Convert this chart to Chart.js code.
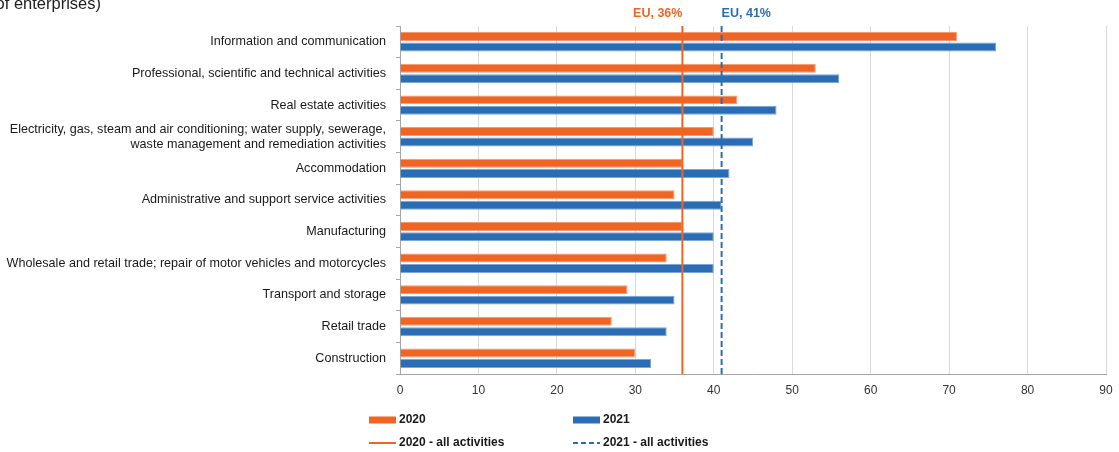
<!DOCTYPE html>
<html>
<head>
<meta charset="utf-8">
<title>Enterprises by economic activity</title>
<script src="https://cdn.jsdelivr.net/npm/chart.js@4/dist/chart.umd.min.js"></script>
<style>
  html, body { margin: 0; padding: 0; background: #fff; }
  #chartWrap { width: 1119px; height: 452px; position: relative; }
</style>
</head>
<body>
<div id="chartWrap"><canvas id="activityChart" width="1119" height="452"></canvas></div>
<script>
// 行业分类（自上而下）
const categories = [
    'Information and communication',
    'Professional, scientific and technical activities',
    'Real estate activities',
    ['Electricity, gas, steam and air conditioning; water supply, sewerage,', 'waste management and remediation activities'],
    'Accommodation',
    'Administrative and support service activities',
    'Manufacturing',
    'Wholesale and retail trade; repair of motor vehicles and motorcycles',
    'Transport and storage',
    'Retail trade',
    'Construction'
];

// 各年份数值（% of enterprises）
const values2020 = [71, 53, 43, 40, 36, 35, 36, 34, 29, 27, 30];
const values2021 = [76, 56, 48, 45, 42, 41, 40, 40, 35, 34, 32];

// 全部行业的欧盟平均值
const euAverage2020 = 36;
const euAverage2021 = 41;

const xTicks = [0, 10, 20, 30, 40, 50, 60, 70, 80, 90];
const seriesLabels = ['2020', '2021'];
const averageLabels = ['2020 - all activities', '2021 - all activities'];

const ORANGE = '#f06424';
const BLUE = '#2a6db5';
const FONT = 'Arial, "Liberation Sans", sans-serif';

// 平均线、标题残片和底部图例
const overlayPlugin = {
    id: 'overlay',
    afterDatasetsDraw(chart) {
        const ctx = chart.ctx;
        const xScale = chart.scales.x;
        const area = chart.chartArea;
        const x2020 = xScale.getPixelForValue(euAverage2020);
        const x2021 = xScale.getPixelForValue(euAverage2021);

        ctx.save();
        ctx.lineWidth = 2;
        ctx.strokeStyle = ORANGE;
        ctx.beginPath();
        ctx.moveTo(x2020, area.top);
        ctx.lineTo(x2020, area.bottom);
        ctx.stroke();

        ctx.strokeStyle = BLUE;
        ctx.setLineDash([6, 3]);
        ctx.beginPath();
        ctx.moveTo(x2021, area.top);
        ctx.lineTo(x2021, area.bottom);
        ctx.stroke();
        ctx.setLineDash([]);

        ctx.font = 'bold 12.5px ' + FONT;
        ctx.textBaseline = 'middle';
        ctx.fillStyle = ORANGE;
        ctx.textAlign = 'right';
        ctx.fillText('EU, ' + euAverage2020 + '%', x2020, 14);
        ctx.fillStyle = BLUE;
        ctx.textAlign = 'left';
        ctx.fillText('EU, ' + euAverage2021 + '%', x2021, 14);
        ctx.restore();
    },
    afterDraw(chart) {
        const ctx = chart.ctx;
        ctx.save();

        // 左上角被裁切的标题
        ctx.font = '16.5px ' + FONT;
        ctx.fillStyle = '#222';
        ctx.textAlign = 'right';
        ctx.textBaseline = 'alphabetic';
        ctx.fillText('of enterprises)', 101, 9);

        // 图例
        const cols = [369, 573];
        const rows = [420, 443];
        const colors = [ORANGE, BLUE];
        ctx.font = 'bold 12px ' + FONT;
        ctx.textAlign = 'left';
        ctx.textBaseline = 'middle';
        for (let i = 0; i < 2; i++) {
            ctx.fillStyle = colors[i];
            ctx.fillRect(cols[i], rows[0] - 3.5, 27, 7);
            ctx.fillStyle = '#1a1a1a';
            ctx.fillText(seriesLabels[i], cols[i] + 30, rows[0]);

            ctx.strokeStyle = colors[i];
            ctx.lineWidth = 2;
            ctx.setLineDash(i === 1 ? [5, 3] : []);
            ctx.beginPath();
            ctx.moveTo(cols[i], rows[1]);
            ctx.lineTo(cols[i] + 27, rows[1]);
            ctx.stroke();
            ctx.setLineDash([]);
            ctx.fillText(averageLabels[i], cols[i] + 30, rows[1]);
        }
        ctx.restore();
    }
};

function initActivityChart() {
    const canvas = document.getElementById('activityChart');
    new Chart(canvas, {
        type: 'bar',
        data: {
            labels: categories,
            datasets: [{
                label: seriesLabels[0],
                data: values2020,
                backgroundColor: ORANGE,
                borderColor: '#f59a6e',
                borderWidth: 1
            }, {
                label: seriesLabels[1],
                data: values2021,
                backgroundColor: BLUE,
                borderColor: '#7ea6d6',
                borderWidth: 1
            }]
        },
        options: {
            indexAxis: 'y',
            responsive: false,
            animation: false,
            categoryPercentage: 0.66,
            barPercentage: 0.86,
            layout: { padding: { left: 0, right: 13, top: 26, bottom: 56 } },
            plugins: {
                legend: { display: false },
                tooltip: { enabled: false }
            },
            scales: {
                x: {
                    min: 0,
                    max: 90,
                    afterFit(scale) {
                        scale.height = 22;
                        scale.paddingRight = 0;
                    },
                    afterBuildTicks(scale) { scale.ticks = xTicks.map(v => ({ value: v })); },
                    grid: { color: '#d9d9d9', lineWidth: 1, drawTicks: false },
                    border: { display: true, color: '#a6a6a6' },
                    ticks: {
                        padding: 9,
                        color: '#333',
                        font: { family: FONT, size: 12 }
                    }
                },
                y: {
                    afterFit(scale) { scale.width = 400; },
                    grid: {
                        offset: true,
                        drawOnChartArea: false,
                        drawTicks: true,
                        tickLength: 4,
                        color: '#a6a6a6'
                    },
                    border: { display: true, color: '#a6a6a6' },
                    ticks: {
                        padding: 10,
                        color: '#1a1a1a',
                        autoSkip: false,
                        font: { family: FONT, size: 12.6 }
                    }
                }
            }
        },
        plugins: [overlayPlugin]
    });
}

document.addEventListener('DOMContentLoaded', initActivityChart);
</script>
</body>
</html>
